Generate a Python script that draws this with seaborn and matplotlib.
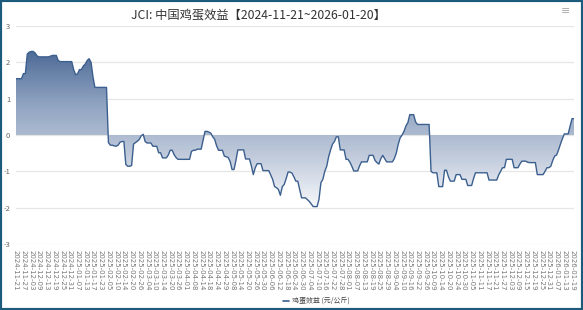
import numpy as np
import pandas as pd
import matplotlib
matplotlib.use("Agg")
import matplotlib.pyplot as plt
import seaborn as sns
from matplotlib.colors import LinearSegmentedColormap
from matplotlib.patches import Rectangle
from matplotlib.lines import Line2D

title = "JCI: 中国鸡蛋效益【2024-11-21~2026-01-20】"
series_name = "鸡蛋效益 (元/公斤)"
y_ticks = [-3, -2, -1, 0, 1, 2, 3]

tick_labels = [
    "2024-11-21", "2024-11-27", "2024-12-03", "2024-12-09", "2024-12-13", "2024-12-19",
    "2024-12-25", "2024-12-31", "2025-01-07", "2025-01-13", "2025-01-17", "2025-01-23",
    "2025-02-05", "2025-02-10", "2025-02-14", "2025-02-20", "2025-02-26", "2025-03-04",
    "2025-03-10", "2025-03-14", "2025-03-20", "2025-03-26", "2025-04-01", "2025-04-08",
    "2025-04-14", "2025-04-18", "2025-04-24", "2025-04-29", "2025-05-08", "2025-05-14",
    "2025-05-20", "2025-05-26", "2025-05-30", "2025-06-06", "2025-06-12", "2025-06-18",
    "2025-06-24", "2025-06-30", "2025-07-04", "2025-07-10", "2025-07-16", "2025-07-22",
    "2025-07-28", "2025-08-01", "2025-08-07", "2025-08-13", "2025-08-19", "2025-08-25",
    "2025-08-29", "2025-09-04", "2025-09-10", "2025-09-16", "2025-09-22", "2025-09-26",
    "2025-10-09", "2025-10-14", "2025-10-20", "2025-10-24", "2025-10-30", "2025-11-05",
    "2025-11-11", "2025-11-17", "2025-11-21", "2025-11-27", "2025-12-03", "2025-12-09",
    "2025-12-15", "2025-12-19", "2025-12-25", "2025-12-31", "2026-01-07", "2026-01-13",
    "2026-01-19",
]

values = [
    1.55, 1.55, 1.55, 1.55, 1.69, 1.69, 2.23, 2.28, 2.30, 2.30,
    2.26, 2.18, 2.15, 2.15, 2.15, 2.15, 2.15, 2.15, 2.17, 2.19,
    2.19, 2.19, 2.05, 2.02, 2.02, 2.02, 2.02, 2.02, 2.02, 2.02,
    1.80, 1.66, 1.68, 1.80, 1.80, 1.90, 1.95, 2.05, 2.10, 2.00,
    1.60, 1.31, 1.31, 1.31, 1.31, 1.31, 1.31, 1.31, -0.21, -0.28,
    -0.28, -0.30, -0.31, -0.28, -0.20, -0.18, -0.18, -0.81, -0.86, -0.86,
    -0.84, -0.25, -0.21, -0.17, -0.12, -0.02, 0.02, -0.18, -0.22, -0.22,
    -0.22, -0.31, -0.31, -0.31, -0.49, -0.49, -0.63, -0.63, -0.63, -0.55,
    -0.42, -0.42, -0.54, -0.62, -0.67, -0.67, -0.67, -0.67, -0.67, -0.67,
    -0.67, -0.45, -0.42, -0.42, -0.39, -0.39, -0.39, -0.14, 0.10, 0.10,
    0.08, 0.05, -0.05, -0.12, -0.30, -0.42, -0.42, -0.42, -0.58, -0.60,
    -0.62, -0.73, -0.95, -0.95, -0.70, -0.41, -0.41, -0.41, -0.41, -0.66,
    -0.66, -0.66, -0.85, -1.09, -0.90, -0.79, -0.79, -0.79, -0.98, -0.98,
    -0.98, -0.98, -1.10, -1.22, -1.42, -1.45, -1.50, -1.66, -1.42, -1.36,
    -1.20, -1.02, -1.02, -1.05, -1.15, -1.27, -1.27, -1.50, -1.73, -1.73,
    -1.73, -1.78, -1.83, -1.90, -1.97, -1.97, -1.97, -1.77, -1.31, -1.22,
    -1.00, -0.86, -0.60, -0.41, -0.25, -0.18, -0.05, -0.05, -0.41, -0.41,
    -0.41, -0.67, -0.67, -0.75, -0.86, -0.99, -0.99, -0.99, -0.85, -0.74,
    -0.74, -0.74, -0.74, -0.56, -0.56, -0.56, -0.70, -0.76, -0.80, -0.65,
    -0.56, -0.65, -0.74, -0.74, -0.74, -0.74, -0.65, -0.50, -0.26, -0.08,
    0.00, 0.10, 0.25, 0.34, 0.56, 0.56, 0.56, 0.36, 0.29, 0.29,
    0.29, 0.29, 0.29, 0.29, 0.29, -1.00, -1.04, -1.04, -1.04, -1.42,
    -1.42, -1.42, -0.97, -0.97, -1.15, -1.27, -1.27, -1.27, -1.09, -1.09,
    -1.09, -1.22, -1.22, -1.22, -1.39, -1.39, -1.39, -1.20, -1.04, -1.04,
    -1.04, -1.04, -1.04, -1.04, -1.04, -1.24, -1.24, -1.24, -1.24, -1.24,
    -1.10, -1.00, -0.90, -0.90, -0.67, -0.67, -0.67, -0.67, -0.90, -0.90,
    -0.90, -0.80, -0.72, -0.72, -0.72, -0.75, -0.76, -0.76, -0.76, -0.76,
    -1.09, -1.09, -1.09, -1.09, -1.00, -0.90, -0.90, -0.86, -0.70, -0.58,
    -0.55, -0.41, -0.25, -0.10, 0.03, 0.03, 0.03, 0.25, 0.45, 0.45,
]

sns.set_style("white")
plt.rcParams['font.family'] = ['Noto Sans CJK SC', 'DejaVu Sans']

df = pd.DataFrame({"idx": np.arange(len(values)), "value": values})
n = len(values)

W, H = 583, 310
fig = plt.figure(figsize=(W / 100, H / 100), dpi=100)
fig.patch.set_facecolor("white")
ax = fig.add_axes([15.7 / W, 66 / H, (574 - 15.7) / W, 218 / H])
ax.set_facecolor("white")

# grid lines
for yv in y_ticks[1:]:
    ax.axhline(yv, color="#e6e6e6", linewidth=0.9, zorder=0)
ax.axhline(-3, color="#d0d0d0", linewidth=0.9, linestyle=(0, (1, 1)), zorder=0)

# gradient fill between line and zero
poly = ax.fill_between(df["idx"], df["value"], 0, color="none", linewidth=0)
cmap = LinearSegmentedColormap.from_list(
    "g", ["#f6f8fb", "#c0cadb", "#8ea2c0", "#4d6b97"])
ymin, ymax = min(values), max(values)
grad = np.linspace(0, 1, 256).reshape(-1, 1)
im = ax.imshow(grad, cmap=cmap, aspect="auto", origin="lower",
               extent=[0, n - 1, ymin, ymax], zorder=1)
im.set_clip_path(poly.get_paths()[0], transform=ax.transData)

sns.lineplot(data=df, x="idx", y="value", ax=ax, color="#3b5f8e",
             linewidth=1.0, zorder=3)

ax.set_xlim(0, n - 1)
ax.set_ylim(-3, 3)
ax.set_yticks(y_ticks)
ax.set_yticklabels([str(v) for v in y_ticks], fontsize=5.5, color="#666666")
ax.set_xticks(np.arange(0, n, 4)[:len(tick_labels)])
ax.set_xticklabels(tick_labels, rotation=-90, fontsize=5.0, color="#777777",
                   family="DejaVu Sans")
ax.tick_params(axis="x", length=0, pad=4)
ax.tick_params(axis="y", length=0, pad=4)
ax.set_xlabel("")
ax.set_ylabel("")
for s in ax.spines.values():
    s.set_visible(False)

# title
fig.text(258.5 / W, 1 - 15 / H, title, ha="center", va="center", fontsize=8.8,
         color="#333333")
# menu icon
fig.text(566 / W, 1 - 11 / H, "≡", ha="center", va="center", fontsize=8,
         color="#aaaaaa", family="DejaVu Sans")

# legend
leg_handle = Line2D([], [], color="#3b5f8e", linewidth=1.2)
leg = fig.legend([leg_handle], [series_name], loc="center",
                 bbox_to_anchor=(316 / W, 1 - 301 / H), frameon=False,
                 fontsize=5.0, handlelength=0.9, handletextpad=0.4)
for t in leg.get_texts():
    t.set_color("#444444")

# outer border
fig.patches.append(Rectangle((0, 0), 1, 1, transform=fig.transFigure,
                             fill=False, edgecolor="#1d5b7c", linewidth=3))

fig.savefig("out.png", dpi=100)
